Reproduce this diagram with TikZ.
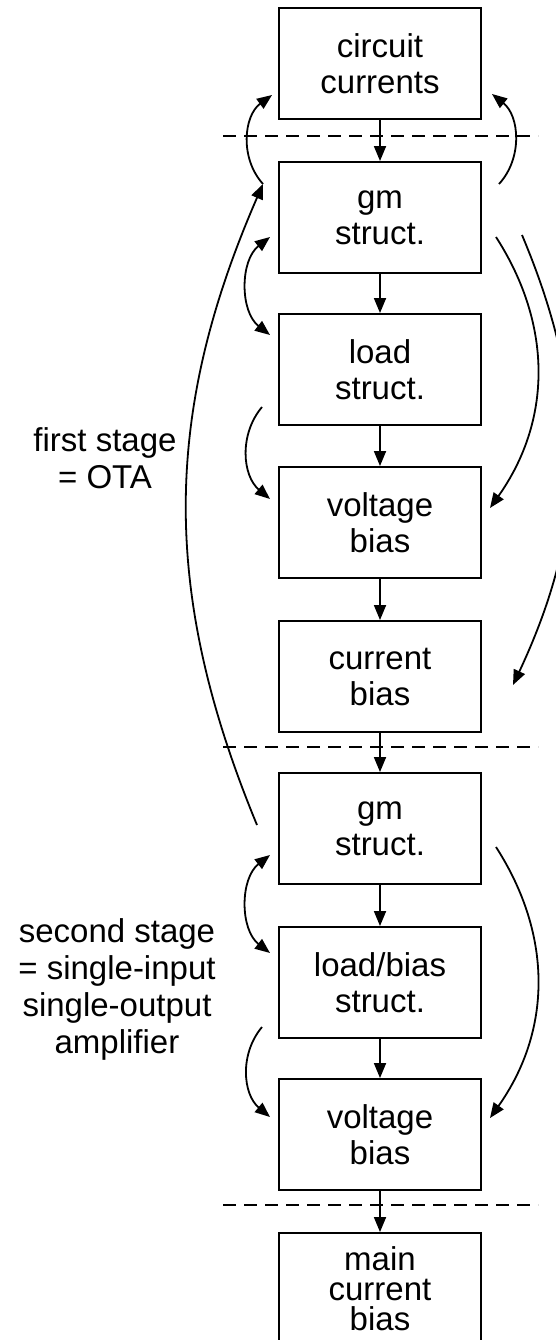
\documentclass[tikz,border=0pt]{standalone}
\usepackage{fontspec}
\setmainfont{Liberation Sans}
\usetikzlibrary{arrows.meta}
\tikzset{
  blk/.style={draw, line width=1.9pt, minimum width=202pt, minimum height=111pt, align=center, inner sep=0pt, font=\fontsize{33}{36}\selectfont},
  arr/.style={line width=1.8pt, -{Triangle[length=15pt,width=12pt]}},
  darr/.style={line width=1.8pt, {Triangle[length=15pt,width=12pt]}-{Triangle[length=15pt,width=12pt]}},
  sepline/.style={line width=1.8pt, dash pattern=on 13pt off 8pt},
  lbl/.style={align=center, inner sep=0pt, font=\fontsize{33}{37}\selectfont}
}
\begin{document}
\begin{tikzpicture}[x=1pt,y=1pt]
\clip (0,0) rectangle (556,-1340);
\fill[white] (0,0) rectangle (556,-1340);

% separators
\coordinate (d1l) at (223,-136);  \coordinate (d1r) at (538,-136);
\coordinate (d2l) at (223,-747);  \coordinate (d2r) at (538,-747);
\coordinate (d3l) at (223,-1205); \coordinate (d3r) at (538,-1205);
\draw[sepline] (d1l) -- (d1r);
\draw[sepline] (d2l) -- (d2r);
\draw[sepline] (d3l) -- (d3r);

% boxes
\node[blk, fill=white] (cc)  at (380,-63.5)  {circuit\\currents};
\node[blk, fill=white] (gm1) at (380,-217.5) {gm\\struct.};
\node[blk, fill=white] (ld1) at (380,-369.5) {load\\struct.};
\node[blk, fill=white] (vb1) at (380,-522.5) {voltage\\bias};
\node[blk, fill=white] (cb1) at (380,-676.5) {current\\bias};
\node[blk, fill=white] (gm2) at (380,-828.5) {gm\\struct.};
\node[blk, fill=white] (ld2) at (380,-982.5) {load/bias\\struct.};
\node[blk, fill=white] (vb2) at (380,-1134.5) {voltage\\bias};
\node[blk, fill=white, font=\fontsize{33}{30}\selectfont] (mcb) at (380,-1288.5) {main\\current\\bias};

% labels
\node[lbl] (l1) at (105,-458) {first stage\\= OTA};
\node[lbl] (l2) at (117,-989) {second stage\\= single-input\\single-output\\amplifier};

% vertical arrows
\draw[arr] (cc) -- (gm1);
\draw[arr] (gm1) -- (ld1);
\draw[arr] (ld1) -- (vb1);
\draw[arr] (vb1) -- (cb1);
\draw[arr] (cb1) -- (gm2);
\draw[arr] (gm2) -- (ld2);
\draw[arr] (ld2) -- (vb2);
\draw[arr] (vb2) -- (mcb);

% curve end points
\coordinate (As) at (263,-184);  \coordinate (Ae) at (272,-95);
\coordinate (Bs) at (499,-184);  \coordinate (Be) at (492,-94);
\coordinate (Cs) at (257,-825);  \coordinate (Ce) at (263,-184);
\coordinate (Ds) at (270,-237);  \coordinate (De) at (270,-335);
\coordinate (Es) at (262,-407);  \coordinate (Ee) at (270,-499);
\coordinate (Fs) at (496,-237);  \coordinate (Fe) at (490,-508);
\coordinate (Gs) at (522,-235);  \coordinate (Ge) at (513,-685);
\coordinate (Hs) at (270,-855);  \coordinate (He) at (270,-953);
\coordinate (Is) at (262,-1027); \coordinate (Ie) at (270,-1117);
\coordinate (Js) at (496,-847);  \coordinate (Je) at (490,-1118);

% curved arrows
\draw[arr] (As) to[bend left=48] (Ae);
\draw[arr] (Bs) to[bend right=47] (Be);
\draw[arr] (Cs) to[bend left=23] (Ce);
\draw[darr] (Ds) to[bend right=52] (De);
\draw[arr] (Es) to[bend right=45] (Ee);
\draw[arr] (Fs) to[bend left=34] (Fe);
\draw[arr] (Gs) to[bend left=24] (Ge);
\draw[darr] (Hs) to[bend right=52] (He);
\draw[arr] (Is) to[bend right=45] (Ie);
\draw[arr] (Js) to[bend left=34] (Je);
\end{tikzpicture}
\end{document}
